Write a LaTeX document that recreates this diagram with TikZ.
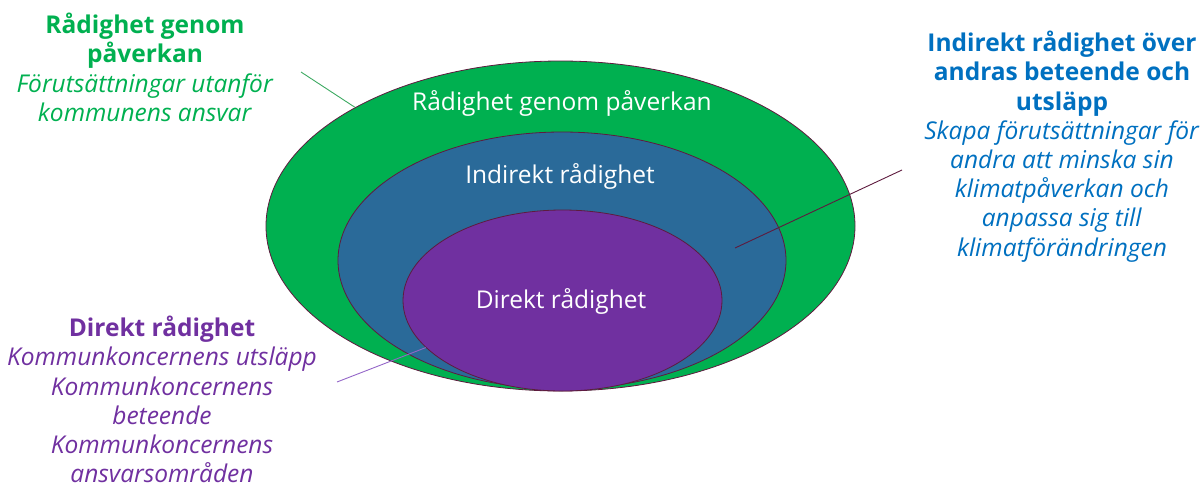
\documentclass[tikz,border=0pt]{standalone}
\usepackage{fontspec}
\setmainfont{Open Sans}
\usepackage{tikz}
\usetikzlibrary{positioning,shapes.geometric}

\definecolor{ringgreen}{HTML}{00B050}
\definecolor{ringblue}{HTML}{2A6A99}
\definecolor{ringpurple}{HTML}{7030A0}
\definecolor{noteblue}{HTML}{0070C0}
\definecolor{rim}{HTML}{5E1B3E}
\definecolor{leadgreen}{HTML}{3DAA62}
\definecolor{leadpurple}{HTML}{9466C8}

\begin{document}
\begin{tikzpicture}
    [ x = 1pt, y = -1pt
    , ring/.style =
      { draw = rim, ellipse, inner sep = 0pt, line width = .8pt }
    , ringtext/.style =
      { text = white, font = \fontsize{24.5}{28}\selectfont }
    , note/.style =
      { align = center, anchor = north, inner sep = 2pt, font = \fontsize{24.5}{29.2}\selectfont }
    , leader/.style =
      { line width = .9pt }
    ]
    \useasboundingbox (0,0) rectangle (1203,488);

    \node [ring, fill=ringgreen, minimum width=589pt, minimum height=330pt] (paverkan) at (560.5,226) {};
    \node [ring, fill=ringblue, minimum width=448pt, minimum height=257pt] (indirekt) at (562,260.5) {};
    \node [ring, fill=ringpurple, minimum width=319pt, minimum height=181pt] (direkt) at (562.5,300.5) {};

    \node [ringtext] (paverkantext) at (562,103) {Rådighet genom påverkan};
    \node [ringtext] (indirekttext) at (560,176) {Indirekt rådighet};
    \node [ringtext] (direkttext) at (561,301) {Direkt rådighet};

    \node [note, text=ringgreen] (paverkannote) at (145,11)
      {\textbf{Rådighet genom}\\\textbf{påverkan}\\\textit{Förutsättningar utanför}\\\textit{kommunens ansvar}};
    \node [note, text=noteblue] (indirektnote) at (1062,29)
      {\textbf{Indirekt rådighet över}\\\textbf{andras beteende och}\\\textbf{utsläpp}\\
       \textit{Skapa förutsättningar för}\\\textit{andra att minska sin}\\\textit{klimatpåverkan och}\\
       \textit{anpassa sig till}\\\textit{klimatförändringen}};
    \node [note, text=ringpurple] (direktnote) at (162,314)
      {\textbf{Direkt rådighet}\\\textit{Kommunkoncernens utsläpp}\\\textit{Kommunkoncernens}\\
       \textit{beteende}\\\textit{Kommunkoncernens}\\\textit{ansvarsområden}};

    \coordinate (paverkanfree) at (301,72);
    \coordinate (indirektfree) at (902,170);
    \coordinate (indirektend) at (735,248);
    \coordinate (direktfree) at (337,382);

    \draw [leader, leadgreen] (paverkanfree) -- (paverkan.150);
    \draw [leader, rim] (indirektfree) -- (indirektend);
    \draw [leader, leadpurple] (direktfree) -- (direkt.199);
  \end{tikzpicture}
\end{document}
